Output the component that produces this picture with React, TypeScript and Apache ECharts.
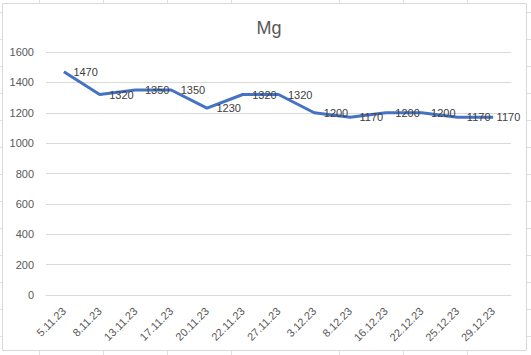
import React, { useEffect, useRef } from "react";
import * as echarts from "echarts";

const title = "Mg";
const categories = [
  "5.11.23", "8.11.23", "13.11.23", "17.11.23", "20.11.23", "22.11.23", "27.11.23",
  "3.12.23", "8.12.23", "16.12.23", "22.12.23", "25.12.23", "29.12.23",
];
const values = [1470, 1320, 1350, 1350, 1230, 1320, 1320, 1200, 1170, 1200, 1200, 1170, 1170];
const yMin = 0;
const yMax = 1600;
const yStep = 200;

const FONT = "'Liberation Sans', Arial, sans-serif";

export default function App() {
  const ref = useRef<HTMLDivElement>(null);
  useEffect(() => {
    if (!ref.current) return;
    const chart = echarts.init(ref.current, null, { renderer: "svg" });
    const sheetCols = [39.5, 103.5, 167.5, 231.5, 339.5, 403.5, 467.5];
    const sheetRows: number[] = [];
    for (let y = 12.5; y < 355; y += 27) sheetRows.push(y);
    const sheetLines: any[] = [];
    sheetCols.forEach((x) =>
      sheetLines.push({
        type: "line",
        z: -10,
        silent: true,
        shape: { x1: x, y1: 0, x2: x, y2: 355 },
        style: { stroke: "#e0e0e0", lineWidth: 1 },
      })
    );
    sheetRows.forEach((y) =>
      sheetLines.push({
        type: "line",
        z: -10,
        silent: true,
        shape: { x1: 0, y1: y, x2: 531, y2: y },
        style: { stroke: "#e0e0e0", lineWidth: 1 },
      })
    );
    const lastIdx = values.length - 1;
    const seriesData = values.map((v, i) =>
      i === lastIdx ? { value: v, label: { distance: 3 } } : v
    );
    chart.setOption({
      animation: false,
      backgroundColor: "#ffffff",
      title: {
        text: title,
        left: 264,
        top: 14,
        textAlign: "center",
        textStyle: { fontFamily: FONT, fontSize: 18, fontWeight: "normal", color: "#595959" },
      },
      graphic: [
        ...sheetLines,
        {
          type: "rect",
          z: -5,
          silent: true,
          shape: { x: 2.5, y: 3.5, width: 524, height: 347 },
          style: { fill: "#ffffff", stroke: "#d9d9d9", lineWidth: 1 },
        },
      ],
      grid: { left: 46, right: 20, top: 52, bottom: 60, containLabel: false },
      xAxis: {
        type: "category",
        data: categories,
        boundaryGap: true,
        axisLine: { show: true, lineStyle: { color: "#d9d9d9", width: 1 } },
        axisTick: { show: false },
        axisLabel: {
          rotate: 45,
          interval: 0,
          margin: 14,
          fontFamily: FONT,
          fontSize: 11,
          color: "#595959",
        },
      },
      yAxis: {
        type: "value",
        min: yMin,
        max: yMax,
        interval: yStep,
        axisLine: { show: false },
        axisTick: { show: false },
        splitLine: { lineStyle: { color: "#d9d9d9", width: 1 } },
        axisLabel: {
          margin: 12,
          fontFamily: FONT,
          fontSize: 11,
          color: "#595959",
          formatter: (v: number) => String(v),
        },
      },
      series: [
        {
          type: "line",
          data: seriesData,
          symbol: "circle",
          symbolSize: 1,
          showSymbol: true,
          itemStyle: { color: "rgba(68,114,196,0)", borderWidth: 0 },
          lineStyle: { color: "#4472C4", width: 3 },
          label: {
            show: true,
            position: "right",
            distance: 9,
            fontFamily: FONT,
            fontSize: 11,
            color: "#404040",
            formatter: (p: any) => String(p.value),
          },
        },
      ],
    });
    return () => chart.dispose();
  }, []);
  return (
    <div
      ref={ref}
      style={{ position: "fixed", left: 0, top: 0, width: 531, height: 355 }}
    />
  );
}
